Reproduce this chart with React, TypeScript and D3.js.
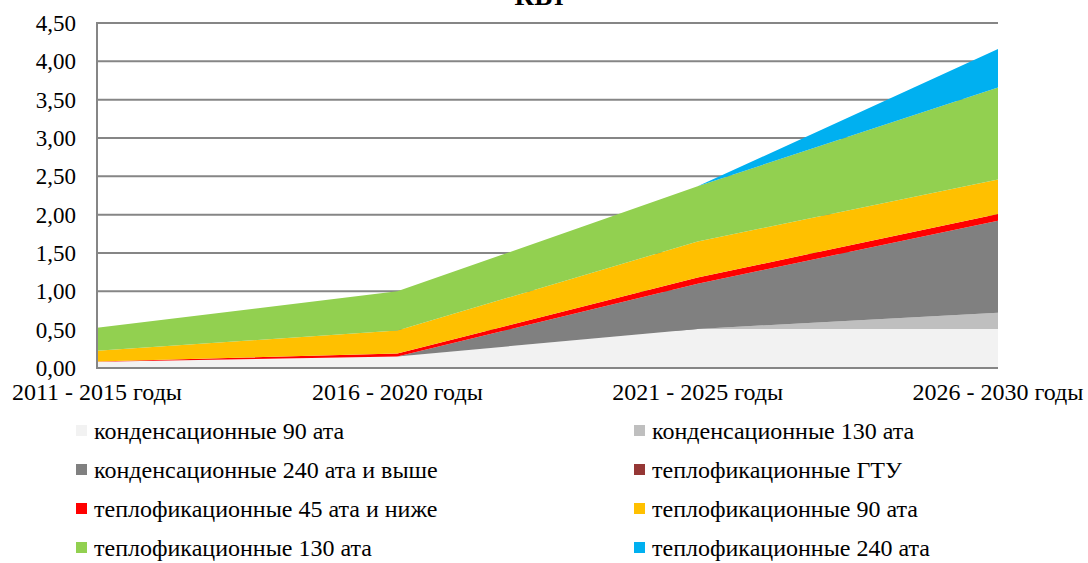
import React from "react";
import * as d3 from "d3";

const categories = ["2011 - 2015 годы", "2016 - 2020 годы", "2021 - 2025 годы", "2026 - 2030 годы"];
const seriesNames = [
  "конденсационные 90 ата",
  "конденсационные 130 ата",
  "конденсационные 240 ата и выше",
  "теплофикационные ГТУ",
  "теплофикационные 45 ата и ниже",
  "теплофикационные 90 ата",
  "теплофикационные 130 ата",
  "теплофикационные 240 ата",
];
const cond90 = [0.08, 0.15, 0.51, 0.51];
const cond130 = [0, 0, 0, 0.21];
const cond240 = [0, 0, 0.59, 1.2];
const gtu = [0, 0, 0, 0];
const t45 = [0.005, 0.04, 0.08, 0.09];
const t90 = [0.14, 0.3, 0.47, 0.45];
const t130 = [0.3, 0.51, 0.72, 1.2];
const t240 = [0, 0, 0, 0.5];
const yTicks = [0, 0.5, 1, 1.5, 2, 2.5, 3, 3.5, 4, 4.5];
const colors = ["#F2F2F2", "#BFBFBF", "#808080", "#953735", "#FF0000", "#FFC000", "#92D050", "#00B0F0"];

const W = 1088;
const H = 563;
const font = "Liberation Serif";

export default function App() {
  const seriesValues = [cond90, cond130, cond240, gtu, t45, t90, t130, t240];
  const keys = seriesNames.map((_, i) => "s" + i);
  const rows = categories.map((c, ci) => {
    const r: any = { cat: c };
    keys.forEach((k, si) => (r[k] = seriesValues[si][ci]));
    return r;
  });
  const stacked = d3.stack().keys(keys)(rows);
  const x = d3.scalePoint().domain(categories).range([97, 998]);
  const y = d3.scaleLinear().domain([0, 4.5]).range([368, 23]);
  const area = d3
    .area<any>()
    .x((d) => x(d.data.cat) as number)
    .y0((d) => y(d[0]))
    .y1((d) => y(d[1]));
  const fmt = (v: number) => v.toFixed(2).replace(".", ",");
  const legendCols = [76, 634];
  const legendBase = [439, 478, 517, 556];
  const ts = { fontFamily: font } as React.CSSProperties;

  return (
    <svg width={W} height={H} style={{ position: "absolute", left: 0, top: 0, background: "#fff", fontFamily: font }}>
      <text x={540} y={5} textAnchor="middle" fontSize={27} fontWeight="bold" fill="#000" style={ts}>
        КВт
      </text>
      {yTicks.map((t) => (
        <line key={"g" + t} x1={97} x2={998} y1={y(t)} y2={y(t)} stroke="#868686" strokeWidth={2} />
      ))}
      {stacked.map((s, i) => (
        <path key={s.key} d={area(s as any) || ""} fill={colors[i]} />
      ))}
      <line x1={97} x2={97} y1={y(4.5) - 1} y2={y(0) + 1} stroke="#868686" strokeWidth={2} />
      <line x1={97} x2={998} y1={y(0)} y2={y(0)} stroke="#868686" strokeWidth={2} />
      {yTicks.map((t) => (
        <text key={"t" + t} x={76} y={y(t) + 8} textAnchor="end" fontSize={23} fill="#000" style={ts}>
          {fmt(t)}
        </text>
      ))}
      {categories.map((c) => (
        <text key={c} x={x(c)} y={400} textAnchor="middle" fontSize={24} fill="#000" style={ts}>
          {c}
        </text>
      ))}
      {seriesNames.map((n, i) => {
        const cx = legendCols[i % 2];
        const by = legendBase[Math.floor(i / 2)];
        return (
          <g key={n}>
            <rect x={cx} y={by - 14} width={11} height={11} fill={colors[i]} />
            <text x={cx + 18} y={by} fontSize={24} fill="#000" style={ts}>
              {n}
            </text>
          </g>
        );
      })}
    </svg>
  );
}
